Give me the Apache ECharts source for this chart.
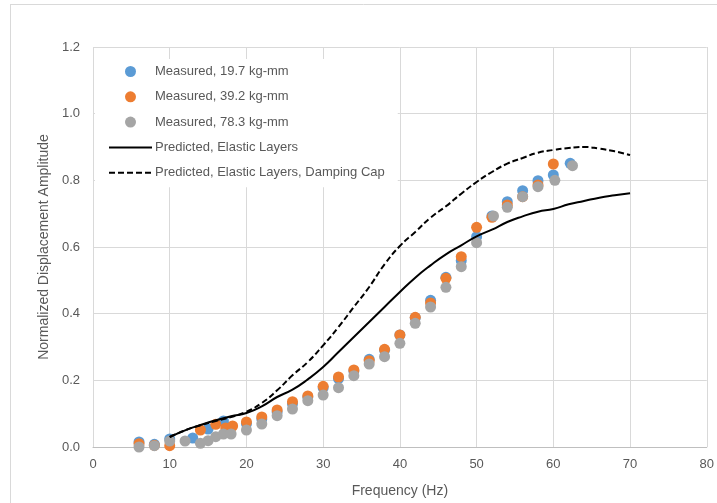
<!DOCTYPE html>
<html>
<head>
<meta charset="utf-8">
<script src="https://cdn.jsdelivr.net/npm/echarts@6/dist/echarts.min.js"></script>
<style>
  html, body { margin: 0; padding: 0; background: #fff; }
  #chart { width: 717px; height: 503px; }
</style>
</head>
<body>
<div id="chart"></div>
<script>
// measured points [Hz, amplitude]
var measured197 = [
  [6, 0.015], [8, 0.008], [10, 0.024], [13, 0.027], [15, 0.054], [17, 0.078], [18, 0.06],
  [20, 0.07], [22, 0.084], [24, 0.105], [26, 0.13], [28, 0.15], [30, 0.178], [32, 0.205],
  [34, 0.228], [36, 0.263], [38, 0.29], [40, 0.336], [42, 0.388], [44, 0.44], [46, 0.509],
  [48, 0.559], [50, 0.631], [52, 0.693], [54, 0.736], [56, 0.769], [58, 0.799], [60, 0.816],
  [62.2, 0.851]
];
var measured392 = [
  [6, 0.01], [8, 0.005], [10, 0.004], [14, 0.051], [16, 0.068], [17.3, 0.057], [18.2, 0.063],
  [20, 0.075], [22, 0.09], [24, 0.111], [26, 0.136], [28, 0.153], [30, 0.182], [32, 0.21],
  [34, 0.231], [36, 0.259], [38, 0.293], [40, 0.336], [42, 0.389], [44, 0.432], [46, 0.506],
  [48, 0.571], [50, 0.659], [52, 0.689], [54, 0.726], [56, 0.751], [58, 0.786], [60, 0.849]
];
var measured783 = [
  [6, 0.0], [8, 0.004], [10, 0.018], [12, 0.018], [14, 0.011], [15, 0.019], [16, 0.031],
  [17, 0.039], [18, 0.039], [20, 0.051], [22, 0.069], [24, 0.094], [26, 0.114], [28, 0.139],
  [30, 0.156], [32, 0.178], [34, 0.214], [36, 0.249], [38, 0.271], [40, 0.311], [42, 0.371],
  [44, 0.42], [46, 0.479], [48, 0.541], [50, 0.613], [52.2, 0.693], [54, 0.719], [56, 0.751],
  [58, 0.781], [60.2, 0.8], [62.5, 0.844]
];

// predicted curves
var freqPred = [10, 12, 14, 16, 18, 20, 22, 24, 26, 28, 30, 32, 34, 36, 38, 40, 42, 44, 46, 48, 50, 52, 54, 56, 58, 60, 62, 64, 66, 68, 70];
var elastic = [0.03, 0.05, 0.066, 0.08, 0.092, 0.102, 0.122, 0.15, 0.172, 0.203, 0.24, 0.285, 0.33, 0.375, 0.42, 0.465, 0.508, 0.545, 0.578, 0.605, 0.632, 0.652, 0.675, 0.692, 0.706, 0.714, 0.728, 0.738, 0.748, 0.755, 0.761];
var dampingCap = [0.03, 0.05, 0.065, 0.078, 0.09, 0.106, 0.132, 0.17, 0.215, 0.255, 0.305, 0.36, 0.42, 0.48, 0.548, 0.603, 0.645, 0.688, 0.722, 0.76, 0.795, 0.825, 0.85, 0.867, 0.883, 0.891, 0.897, 0.9, 0.895, 0.887, 0.876];

var seriesNames = [
  'Measured, 19.7 kg-mm',
  'Measured, 39.2 kg-mm',
  'Measured, 78.3 kg-mm',
  'Predicted, Elastic Layers',
  'Predicted, Elastic Layers, Damping Cap'
];

function zip(xs, ys) {
  return xs.map(function (x, i) { return [x, ys[i]]; });
}

var chart = echarts.init(document.getElementById('chart'));
var txt = '#595959';
var font = 'Liberation Sans';

var option = {
  animation: false,
  textStyle: { fontFamily: font },
  grid: { left: 93, right: 8, top: 47, bottom: 56 },
  graphic: [
    { type: 'line', shape: { x1: 10, y1: 4.5, x2: 717, y2: 4.5 }, style: { stroke: '#d9d9d9', lineWidth: 1 } },
    { type: 'line', shape: { x1: 10.5, y1: 4, x2: 10.5, y2: 503 }, style: { stroke: '#d9d9d9', lineWidth: 1 } }
  ],
  legend: {
    orient: 'vertical',
    left: 95,
    top: 59,
    padding: [6, 13, 8, 13],
    backgroundColor: '#fff',
    itemWidth: 43,
    itemHeight: 11,
    itemGap: 12.3,
    textStyle: { color: txt, fontSize: 13, fontFamily: font, padding: [0, 0, 0, -2] },
    data: [
      { name: seriesNames[0], icon: 'circle' },
      { name: seriesNames[1], icon: 'circle' },
      { name: seriesNames[2], icon: 'circle' },
      // line-only icons: hide the symbol dot
      { name: seriesNames[3], itemStyle: { opacity: 0 } },
      { name: seriesNames[4], itemStyle: { opacity: 0 } }
    ]
  },
  xAxis: {
    type: 'value',
    min: 0,
    max: 80,
    interval: 10,
    name: 'Frequency (Hz)',
    nameLocation: 'middle',
    nameGap: 37,
    nameTextStyle: { color: txt, fontSize: 14 },
    axisLine: { show: true, lineStyle: { color: '#bfbfbf', width: 1 } },
    axisTick: { show: false },
    axisLabel: { color: txt, fontSize: 13, margin: 11 },
    splitLine: { show: true, lineStyle: { color: '#d9d9d9', width: 1 } }
  },
  yAxis: {
    type: 'value',
    min: 0,
    max: 1.2,
    interval: 0.2,
    name: 'Normalized Displacement Amplitude',
    nameLocation: 'middle',
    nameGap: 41,
    nameTextStyle: { color: txt, fontSize: 14 },
    axisLine: { show: false },
    axisTick: { show: false },
    axisLabel: {
      color: txt, fontSize: 13, margin: 13,
      formatter: function (v) { return v.toFixed(1); }
    },
    splitLine: { show: true, lineStyle: { color: '#d9d9d9', width: 1 } }
  },
  series: [
    {
      name: seriesNames[0], type: 'scatter', symbol: 'circle', symbolSize: 11,
      itemStyle: { color: '#5B9BD5', opacity: 1 }, data: measured197
    },
    {
      name: seriesNames[1], type: 'scatter', symbol: 'circle', symbolSize: 11,
      itemStyle: { color: '#ED7D31', opacity: 1 }, data: measured392
    },
    {
      name: seriesNames[2], type: 'scatter', symbol: 'circle', symbolSize: 11,
      itemStyle: { color: '#A5A5A5', opacity: 1 }, data: measured783
    },
    {
      name: seriesNames[3], type: 'line', smooth: true, symbol: 'none', showSymbol: false,
      lineStyle: { color: '#000', width: 2 }, itemStyle: { color: '#000' },
      data: zip(freqPred, elastic)
    },
    {
      name: seriesNames[4], type: 'line', smooth: true, symbol: 'none', showSymbol: false,
      lineStyle: { color: '#000', width: 2, type: [6, 3] }, itemStyle: { color: '#000' },
      data: zip(freqPred, dampingCap)
    }
  ]
};

chart.setOption(option);
</script>
</body>
</html>
